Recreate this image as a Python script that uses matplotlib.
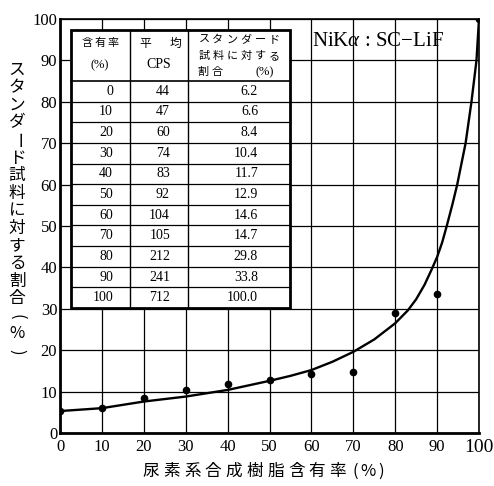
import matplotlib
matplotlib.use("Agg")
import matplotlib.pyplot as plt
from matplotlib.patches import Rectangle

plt.rcParams['font.family'] = ['Liberation Serif', 'Noto Sans CJK JP', 'DejaVu Sans']
plt.rcParams['mathtext.fontset'] = 'custom'
plt.rcParams['mathtext.rm'] = 'Liberation Serif'
plt.rcParams['mathtext.it'] = 'Liberation Serif:italic'

# ---- data ----
content = [0, 10, 20, 30, 40, 50, 60, 70, 80, 90, 100]
cps = [44, 47, 60, 74, 83, 92, 104, 105, 212, 241, 712]
ratio = [6.2, 6.6, 8.4, 10.4, 11.7, 12.9, 14.6, 14.7, 29.8, 33.8, 100.0]
# dots
dot_y = [5.3, 6.0, 8.4, 10.4, 11.9, 12.8, 14.2, 14.7, 29.0, 33.5, 100.0]
# fitted curve
curve_x = [0, 10, 20, 30, 40, 50, 55, 60, 65, 70, 75, 80, 83, 85, 87, 88.7, 90, 91.2,
           92.3, 93.6, 94.8, 95.8, 96.8, 97.5, 98.2, 98.8, 99.4, 100]
curve_y = [5.3, 6.0, 7.6, 8.8, 10.4, 12.6, 13.8, 15.2, 17.2, 19.6, 22.6, 26.5, 29.6, 32.3,
           35.8, 39.5, 42.5, 46.0, 50.0, 55.0, 60.0, 65.0, 70.0, 75.0, 80.0, 85.0, 90.0, 100.0]
xticks = [0, 10, 20, 30, 40, 50, 60, 70, 80, 90, 100]
yticks = [0, 10, 20, 30, 40, 50, 60, 70, 80, 90, 100]
ylabel = "スタンダード試料に対する割合(%)"
xlabel = "尿素系合成樹脂含有率(%)"
title_txt = "NiK$\\alpha$ : SC−LiF"

W, H = 494, 486
fig = plt.figure(figsize=(W / 100, H / 100), dpi=100)
AX_L, AX_R, AX_T, AX_B = 60, 479, 19, 433
ax = fig.add_axes([AX_L / W, 1 - AX_B / H, (AX_R - AX_L) / W, (AX_B - AX_T) / H])
ax.set_xlim(0, 100)
ax.set_ylim(0, 100)
ax.set_xticks(xticks)
ax.set_yticks(yticks)
ax.set_xticklabels([str(t) for t in xticks])
ax.set_yticklabels([str(t) for t in yticks])
ax.tick_params(length=0, labelsize=12, colors='black')
ax.tick_params(axis='x', pad=4)
ax.tick_params(axis='y', pad=2)
for lbl in ax.get_xticklabels():
    if lbl.get_text() == '100':
        lbl.set_fontsize(14)
ax.grid(True, color='black', linewidth=0.9)
ax.set_axisbelow(True)
for s in ['left', 'bottom']:
    ax.spines[s].set_linewidth(2.0)
for s in ['right', 'top']:
    ax.spines[s].set_linewidth(1.2)

ax.plot(curve_x, curve_y, color='black', linewidth=1.7, zorder=3,
        solid_capstyle='round', solid_joinstyle='round')
ax.plot(content, dot_y, 'o', color='black', markersize=4.5, zorder=4)


def px_text(x, y, s, **kw):
    fig.text(x / W, 1 - y / H, s, **kw)


def spaced(xc, y, s, pitch, fs):
    n = len(s)
    for i, ch in enumerate(s):
        px_text(xc + (i - (n - 1) / 2) * pitch, y, ch, ha='center', va='center',
                fontsize=fs, zorder=8, family=['Noto Sans CJK JP'])


# ---- inset table, pixel layout ----
TX = [71, 130, 188, 290]
TY_TOP, TY_HEAD, TY_BOT = 30, 81, 308


def px2data(x, y):
    return ((x - AX_L) / (AX_R - AX_L) * 100, (AX_B - y) / (AX_B - AX_T) * 100)


x0, y0 = px2data(TX[0], TY_BOT)
x1, y1 = px2data(TX[3], TY_TOP)
ax.add_patch(Rectangle((x0, y0), x1 - x0, y1 - y0, facecolor='white',
                       edgecolor='black', linewidth=2.0, zorder=5))
for cx in TX[1:3]:
    a = px2data(cx, TY_BOT)
    b = px2data(cx, TY_TOP)
    ax.plot([a[0], b[0]], [a[1], b[1]], color='black', linewidth=1.0, zorder=6)
nrow = len(content)
rh = (TY_BOT - TY_HEAD) / nrow
for i in range(nrow):
    yy = TY_HEAD + i * rh
    a = px2data(TX[0], yy)
    b = px2data(TX[3], yy)
    ax.plot([a[0], b[0]], [a[1], b[1]], color='black',
            linewidth=1.2 if i == 0 else 0.9, zorder=6)

# headers
spaced(100, 43, "含有率", 12.5, 8)
px_text(100, 65, "(%)", ha='center', va='center', fontsize=9, zorder=8)
spaced(160, 43, "平均", 30, 8.5)
px_text(159, 65, "CPS", ha='center', va='center', fontsize=10, zorder=8)
spaced(239, 40, "スタンダード", 14, 8)
spaced(239, 56, "試料に対する", 14, 8)
spaced(210, 72, "割合", 14, 8)
px_text(265, 72, "(%)", ha='center', va='center', fontsize=9, zorder=8)

for r in range(nrow):
    yc = TY_HEAD + (r + 0.5) * rh
    px_text(113, yc, str(content[r]), ha='right', va='center', fontsize=10, zorder=8)
    px_text(170, yc, str(cps[r]), ha='right', va='center', fontsize=10, zorder=8)
    px_text(258, yc, f"{ratio[r]:.1f}", ha='right', va='center', fontsize=10, zorder=8)

px_text(312, 41, title_txt, ha='left', va='center', fontsize=15, zorder=8)

# ---- vertical y label ----
ys0, ystep = 70, 17.6
for i, ch in enumerate(ylabel):
    rot = -90 if ch in "ー()" else 0
    px_text(17, ys0 + i * ystep, ch, ha='center', va='center',
            fontsize=12, rotation=rot, family=['Noto Sans CJK JP'])

# ---- spaced x label ----
for i, ch in enumerate(xlabel[:10]):
    px_text(150.7 + i * 20.8, 471, ch, ha='center', va='center',
            fontsize=12, family=['Noto Sans CJK JP'])
for ch, xx in zip(xlabel[10:], [355, 368, 381]):
    px_text(xx, 471, ch, ha='center', va='center', fontsize=12,
            family=['Noto Sans CJK JP'])

fig.savefig("out.png", dpi=100)
